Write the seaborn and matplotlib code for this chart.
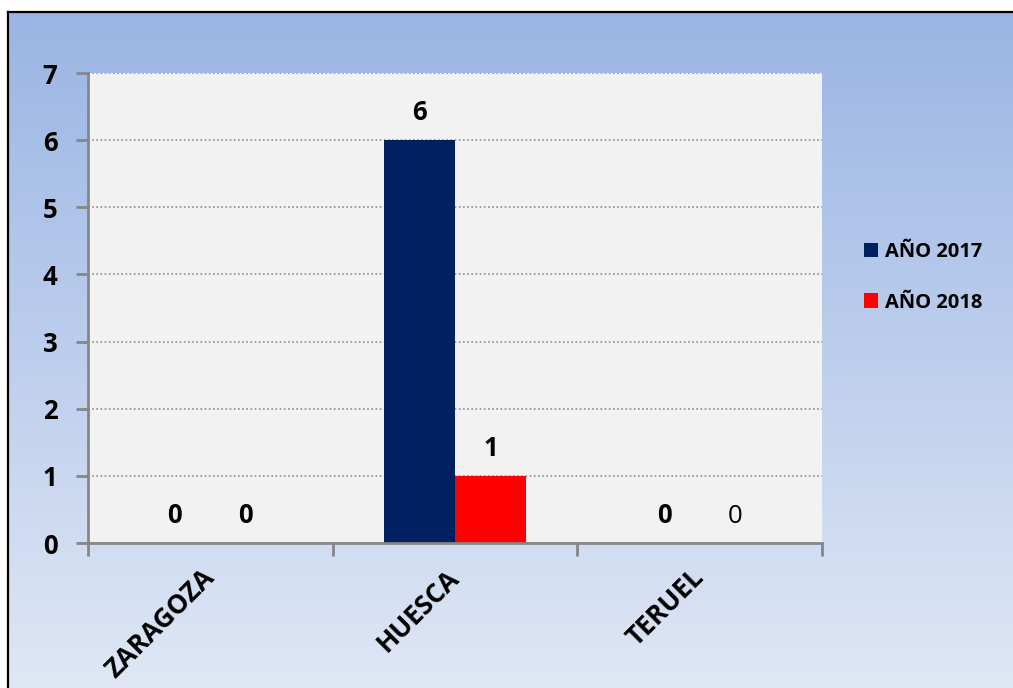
import numpy as np
import pandas as pd
import matplotlib.pyplot as plt
import seaborn as sns

# Data
provincias = ["ZARAGOZA", "HUESCA", "TERUEL"]
anio_2017 = [0, 6, 0]
anio_2018 = [0, 1, 0]
series = ["AÑO 2017", "AÑO 2018"]
colores = ["#002060", "#FF0000"]
y_ticks = [0, 1, 2, 3, 4, 5, 6, 7]


def main():
    sns.set_style("white")
    plt.rcParams["font.family"] = ["Open Sans", "DejaVu Sans"]
    plt.rcParams["text.color"] = "black"

    df = pd.DataFrame({
        "Provincia": provincias * 2,
        "Serie": [series[0]] * len(provincias) + [series[1]] * len(provincias),
        "Valor": anio_2017 + anio_2018,
    })

    W, H = 1013, 688
    fig = plt.figure(figsize=(W / 100, H / 100), dpi=100)
    fig.patch.set_facecolor("white")

    # gradient background of the chart area, with black border on left/top
    bg = fig.add_axes([7.5 / W, 0, 1 - 7.5 / W, 1 - 12 / H], zorder=0)
    grad = np.linspace(0, 1, 256).reshape(-1, 1)
    top = np.array([154, 181, 228]) / 255
    bot = np.array([223, 231, 245]) / 255
    img = top + (bot - top) * grad[..., None]
    bg.imshow(img, aspect="auto", extent=(0, 1, 0, 1), origin="upper")
    bg.set_xlim(0, 1)
    bg.set_ylim(0, 1)
    bg.set_xticks([])
    bg.set_yticks([])
    for side in ["right", "bottom"]:
        bg.spines[side].set_visible(False)
    for side in ["left", "top"]:
        bg.spines[side].set_color("black")
        bg.spines[side].set_linewidth(1.6)

    ax = fig.add_axes([88 / W, 1 - 543 / H, (822 - 88) / W, (543 - 73) / H], zorder=1)
    ax.set_facecolor("#F2F2F2")

    sns.barplot(data=df, x="Provincia", y="Valor", hue="Serie",
                palette=colores, width=0.58, saturation=1, ax=ax,
                linewidth=0, dodge=True)

    # value labels
    for i, cont in enumerate(ax.containers):
        texts = ax.bar_label(cont, padding=10, fontsize=18.5, fontweight="bold",
                             color="black")
        if i == 1:
            texts[2].set_fontweight("normal")

    ax.set_ylim(0, 7)
    ax.set_yticks(y_ticks)
    ax.set_yticklabels([str(t) for t in y_ticks], fontsize=18.5, fontweight="bold")
    ax.tick_params(axis="y", left=True, length=9, width=2, color="#868686",
                   labelcolor="black", pad=13, direction="out")

    ax.set_xlim(-0.5, 2.5)
    ax.set_xticks([-0.5, 0.5, 1.5, 2.5])
    ax.set_xticklabels([])
    ax.set_xticks([0, 1, 2], minor=True)
    ax.set_xticklabels(provincias, minor=True, rotation=45, ha="right",
                       va="center", rotation_mode="anchor",
                       fontsize=19, fontweight="bold")
    ax.tick_params(axis="x", which="major", bottom=True, length=9, width=2,
                   color="#868686", direction="out")
    ax.tick_params(axis="x", which="minor", bottom=True, length=0, pad=22,
                   labelcolor="black")

    ax.set_axisbelow(True)
    ax.yaxis.grid(True, linestyle=(0, (1, 1.5)), color="#8C8C8C", linewidth=1.2)
    ax.xaxis.grid(False)
    for side in ["top", "right"]:
        ax.spines[side].set_visible(False)
    for side in ["left", "bottom"]:
        ax.spines[side].set_color("#868686")
        ax.spines[side].set_linewidth(2)

    ax.set_xlabel("")
    ax.set_ylabel("")

    handles, labels = ax.get_legend_handles_labels()
    ax.legend(handles, labels, loc="center left", bbox_to_anchor=(1.057, 0.565),
              frameon=False, prop={"size": 14.5, "weight": "bold"},
              handlelength=0.7, handleheight=0.7, handletextpad=0.35,
              labelspacing=1.5, borderpad=0, borderaxespad=0)

    fig.savefig("out.png", dpi=100)
    plt.close(fig)


if __name__ == "__main__":
    main()
